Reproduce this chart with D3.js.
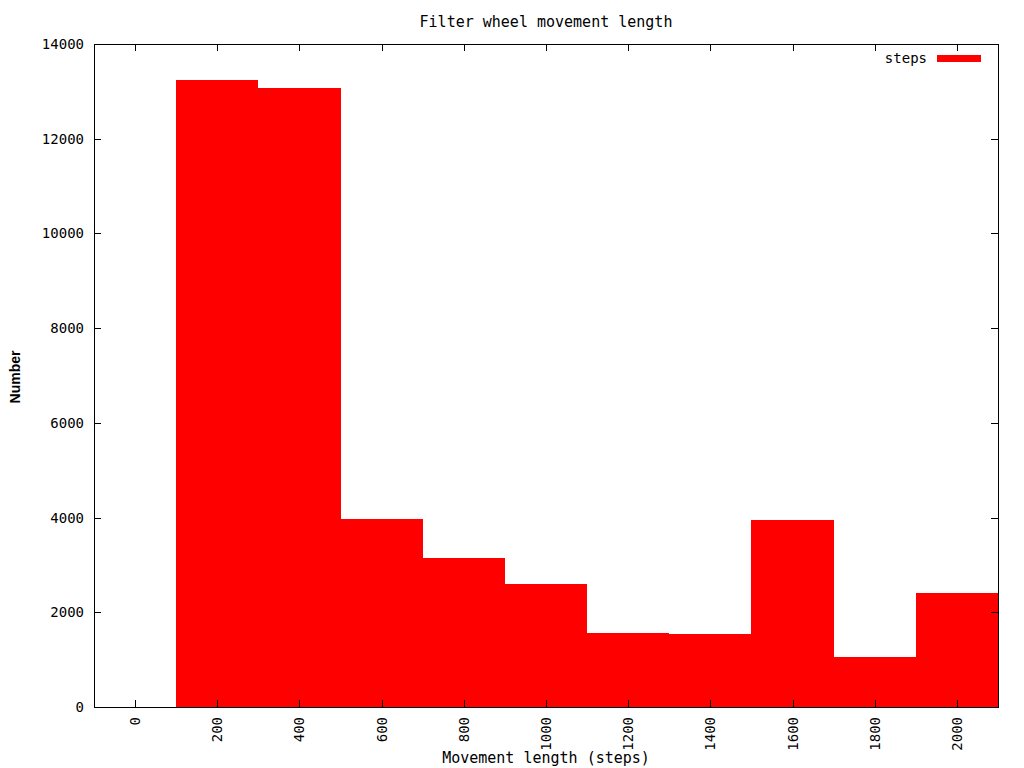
<html>
<head>
<title>Filter wheel movement length</title>
<meta charset="utf-8">
<style type="text/css">
* {
  margin: 0;
  padding: 0;
}

body {
  background: #fff;
}

text {
  font-family: "DejaVu Sans Mono", "Liberation Mono", monospace;
  font-size: 14px;
  fill: #000;
}

text.title, text.xlabel {
  font-size: 15px;
}

text.ylabel {
  font-family: "Liberation Sans", Arial, sans-serif;
  font-weight: bold;
  font-size: 14px;
}

line, path.frame, rect {
  shape-rendering: crispEdges;
}
</style>
<script type="text/javascript" src="https://cdn.jsdelivr.net/npm/d3@7/dist/d3.min.js"></script>
<script type="text/javascript">
// histogram bins (centre of each 200 step wide box) and counts
var binCenters = [200, 400, 600, 800, 1000, 1200, 1400, 1600, 1800, 2000];
var counts = [13240, 13070, 3970, 3150, 2600, 1565, 1545, 3950, 1055, 2410];
var binWidth = 200;

var xTicks = [0, 200, 400, 600, 800, 1000, 1200, 1400, 1600, 1800, 2000];
var yTicks = [0, 2000, 4000, 6000, 8000, 10000, 12000, 14000];

var titleText = "Filter wheel movement length";
var xLabelText = "Movement length (steps)";
var yLabelText = "Number";
var legendText = "steps";

window.onload = function() {
  var width = 1024, height = 768;
  var left = 94, right = 998, top = 44, bottom = 707;
  var tickLen = 7;

  var x = d3.scaleLinear().domain([-100, 2100]).range([left, right]);
  var y = d3.scaleLinear().domain([0, 14000]).range([bottom, top]);

  var svg = d3.select("#chart")
              .append("svg")
              .attr("width", width)
              .attr("height", height);

  // boxes
  svg.selectAll("rect.bar")
    .data(binCenters)
    .enter().append("rect")
    .attr("class", "bar")
    .attr("fill", "#ff0000")
    .attr("x", function(d) { return Math.round(x(Math.max(d - binWidth / 2, -100))); })
    .attr("width", function(d) { return Math.round(x(Math.min(d + binWidth / 2, 2100))) - Math.round(x(Math.max(d - binWidth / 2, -100))); })
    .attr("y", function(d, i) { return Math.round(y(counts[i])); })
    .attr("height", function(d, i) { return Math.round(y(0)) - Math.round(y(counts[i])); });

  // frame
  svg.append("path")
    .attr("class", "frame")
    .attr("d", "M" + left + "," + top + "H" + right + "V" + bottom + "H" + left + "Z")
    .attr("fill", "none")
    .attr("stroke", "#000")
    .attr("stroke-width", 1);

  // x ticks, bottom and mirrored at top
  xTicks.forEach(function(t) {
    var px = Math.round(x(t)) + 0.5;
    svg.append("line").attr("x1", px).attr("x2", px).attr("y1", bottom).attr("y2", bottom - tickLen).attr("stroke", "#000");
    svg.append("line").attr("x1", px).attr("x2", px).attr("y1", top).attr("y2", top + tickLen).attr("stroke", "#000");
    svg.append("text")
      .attr("transform", "translate(" + (x(t) + 5) + "," + (bottom + 10) + ") rotate(-90)")
      .attr("text-anchor", "end")
      .text(t);
  });

  // y ticks, left and mirrored at right
  yTicks.forEach(function(t) {
    var py = Math.round(y(t)) + 0.5;
    svg.append("line").attr("x1", left).attr("x2", left + tickLen).attr("y1", py).attr("y2", py).attr("stroke", "#000");
    svg.append("line").attr("x1", right).attr("x2", right - tickLen).attr("y1", py).attr("y2", py).attr("stroke", "#000");
    svg.append("text")
      .attr("x", left - 10)
      .attr("y", y(t) + 5)
      .attr("text-anchor", "end")
      .text(t);
  });

  svg.append("text")
    .attr("class", "title")
    .attr("x", 546)
    .attr("y", 27)
    .attr("text-anchor", "middle")
    .text(titleText);

  svg.append("text")
    .attr("class", "xlabel")
    .attr("x", 546)
    .attr("y", 763)
    .attr("text-anchor", "middle")
    .text(xLabelText);

  svg.append("text")
    .attr("class", "ylabel")
    .attr("transform", "translate(20,377) rotate(-90)")
    .attr("text-anchor", "middle")
    .text(yLabelText);

  // legend
  svg.append("text")
    .attr("x", 927)
    .attr("y", 63)
    .attr("text-anchor", "end")
    .text(legendText);
  svg.append("rect")
    .attr("x", 937)
    .attr("y", 55)
    .attr("width", 44)
    .attr("height", 7)
    .attr("fill", "#ff0000");
};
</script>
</head>
<body>
  <div id="chart"></div>
</body>
</html>
